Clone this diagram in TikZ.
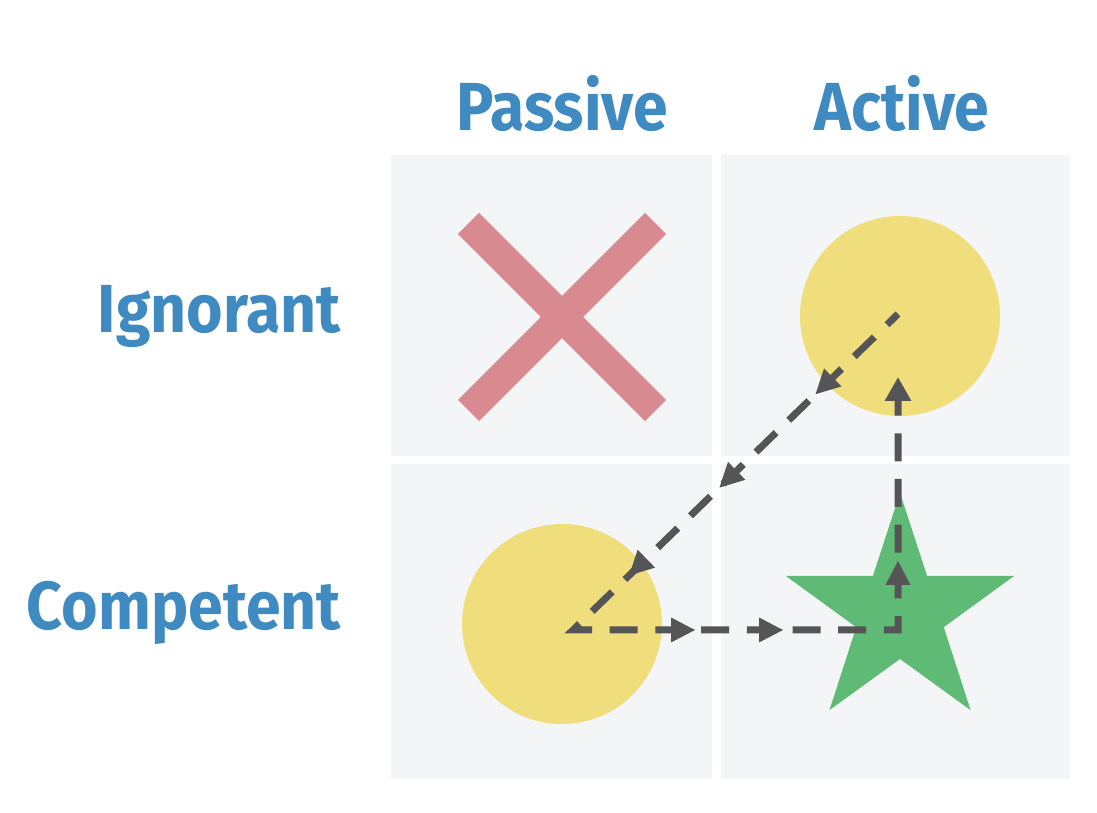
\documentclass[tikz,border=0pt]{standalone}
\usepackage{fontspec}
\newfontfamily\labelfont{Fira Sans}[FakeStretch=0.92]
\usetikzlibrary{arrows.meta,calc}

\definecolor{panelgray}{HTML}{F4F5F7}
\definecolor{crossred}{HTML}{D98A90}
\definecolor{dotyellow}{HTML}{F0DD7C}
\definecolor{stargreen}{HTML}{5FBA76}
\definecolor{labelblue}{HTML}{3F8AC0}
\definecolor{flowgray}{HTML}{555557}

\tikzset{
  panel/.style={fill=panelgray, draw=none},
  axislabel/.style={text=labelblue, inner sep=0pt, font=\labelfont\bfseries\fontsize{68}{80}\selectfont},
  cross/.style={draw=crossred, line width=30pt, line cap=butt},
  dot/.style={circle, fill=dotyellow, draw=none, minimum size=200pt, inner sep=0pt},
  tipshape/.tip={Triangle[length=24pt,width=25pt]},
  flow/.style={draw=flowgray, line width=7pt,
    dash pattern=on 28pt off 17.7pt, dash phase=12.7pt,
    line join=miter, -tipshape},
  % arrowhead placed along the flow path, tip at the pic origin
  flowhead/.pic={\fill[flowgray] (0,0) -- (-24,12.5) -- (-24,-12.5) -- cycle;},
}

\begin{document}
\begin{tikzpicture}[x=1pt,y=1pt]
  \useasboundingbox (0,0) rectangle (1097,813);

  % quadrant panels
  \fill[panel] (391,357) rectangle (712,658);
  \fill[panel] (721,357) rectangle (1070,658);
  \fill[panel] (391,34) rectangle (712,349);
  \fill[panel] (721,34) rectangle (1070,349);

  % axis labels
  \node[axislabel, anchor=base] (passive) at (562,682) {Passive};
  \node[axislabel, anchor=base] (active) at (902,682) {Active};
  \node[axislabel, anchor=base east] (ignorant) at (341,480) {Ignorant};
  \node[axislabel, anchor=base east] (competent) at (341,183) {Competent};

  % passive & ignorant: cross
  \draw[cross] (468.5,589.5) -- (655.5,402.5);
  \draw[cross] (655.5,589.5) -- (468.5,402.5);

  % active & ignorant, passive & competent: circles
  \node[dot] (topdot) at (900,497) {};
  \node[dot] (lowdot) at (562,189) {};

  % active & competent: five-pointed star
  \coordinate (starc) at (900,200);
  \fill[stargreen] ($(starc)+(90:120)$)
    -- ($(starc)+(126:46)$) -- ($(starc)+(162:120)$)
    -- ($(starc)+(198:46)$) -- ($(starc)+(234:120)$)
    -- ($(starc)+(270:46)$) -- ($(starc)+(306:120)$)
    -- ($(starc)+(342:46)$) -- ($(starc)+(18:120)$)
    -- ($(starc)+(54:46)$) -- cycle;

  % path through the quadrants
  \coordinate (p0) at (898,499);
  \coordinate (p1) at (573,183);
  \coordinate (p2) at (898,183);
  \coordinate (p3) at (898,436);
  \draw[flow] (p0) -- (p1) -- (p2) -- (p3);

  % intermediate arrowheads
  \pic[rotate=224.2] at ($(p0)!115pt!(p1)$) {flowhead};
  \pic[rotate=224.2] at ($(p0)!249pt!(p1)$) {flowhead};
  \pic[rotate=224.2] at ($(p0)!375pt!(p1)$) {flowhead};
  \pic at ($(p1)!122pt!(p2)$) {flowhead};
  \pic at ($(p1)!210pt!(p2)$) {flowhead};
  \pic[rotate=90] at ($(p2)!69pt!(p3)$) {flowhead};
\end{tikzpicture}
\end{document}
